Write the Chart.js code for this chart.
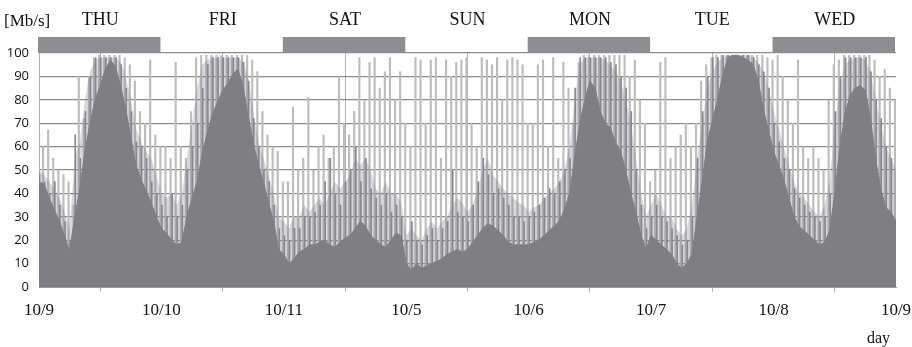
<!DOCTYPE html>
<html>
<head>
<meta charset="utf-8">
<script src="https://cdn.jsdelivr.net/npm/chart.js@4.4.1/dist/chart.umd.min.js"></script>
<style>
  html, body { margin: 0; padding: 0; background: #fff; }
  #wrap { width: 912px; height: 347px; }
</style>
</head>
<body>
<div id="wrap"><canvas id="traffic" width="912" height="347"></canvas></div>
<script>
// day names over the plot, and date tick labels at each day boundary
const dayNames = ['THU', 'FRI', 'SAT', 'SUN', 'MON', 'TUE', 'WED'];
const dateLabels = ['10/9', '10/10', '10/11', '10/5', '10/6', '10/7', '10/8', '10/9'];
const shadedDays = [true, false, true, false, true, false, true];
const yTicks = [0, 10, 20, 30, 40, 50, 60, 70, 80, 90, 100];

// hourly level of the dense (dark) traffic, Mb/s
const baseThu = [45, 44, 38, 33, 28, 22, 15, 30, 42, 58, 70, 80, 86, 93, 97, 94, 86, 76, 64, 52, 46, 41, 36, 30];
const baseFri = [25, 23, 20, 18, 19, 30, 38, 45, 57, 66, 74, 79, 84, 87, 91, 93, 86, 73, 62, 52, 45, 36, 28, 16];
const baseSat = [14, 10, 12, 15, 16, 18, 18, 19, 20, 18, 17, 19, 21, 22, 25, 28, 26, 22, 20, 18, 17, 20, 23, 22];
const baseSun = [10, 7, 10, 8, 9, 10, 11, 12, 14, 15, 16, 15, 16, 19, 22, 25, 27, 26, 24, 22, 19, 18, 18, 18];
const baseMon = [18, 19, 20, 22, 24, 26, 28, 33, 40, 55, 70, 80, 88, 85, 75, 70, 68, 62, 58, 50, 40, 32, 22, 16];
const baseTue = [22, 20, 18, 16, 14, 10, 8, 10, 14, 30, 45, 62, 71, 80, 90, 98, 99, 99, 98, 97, 95, 88, 76, 67];
const baseWed = [58, 52, 46, 38, 30, 26, 24, 22, 20, 18, 19, 24, 40, 60, 74, 82, 85, 86, 84, 72, 55, 42, 34, 32];
const baseEnd = 28;

// hourly top of the thick band of spikes, Mb/s
const bandThu = [50, 48, 45, 42, 38, 32, 25, 55, 62, 80, 92, 97, 98, 98, 98, 98, 96, 90, 80, 68, 62, 58, 55, 48];
const bandFri = [40, 38, 40, 35, 40, 55, 70, 85, 95, 97, 98, 98, 98, 98, 98, 98, 96, 90, 75, 62, 55, 48, 40, 30];
const bandSat = [28, 25, 30, 30, 35, 32, 35, 38, 35, 40, 45, 42, 45, 48, 55, 52, 55, 50, 42, 40, 45, 40, 40, 36];
const bandSun = [22, 25, 22, 20, 25, 28, 25, 28, 30, 35, 38, 36, 32, 35, 42, 50, 55, 48, 45, 42, 40, 38, 36, 35];
const bandMon = [32, 34, 35, 38, 40, 42, 45, 50, 60, 80, 95, 98, 98, 98, 98, 97, 95, 92, 88, 80, 70, 55, 40, 30];
const bandTue = [35, 40, 35, 30, 30, 25, 22, 25, 35, 55, 70, 85, 92, 96, 98, 99, 99, 99, 99, 99, 98, 96, 92, 85];
const bandWed = [75, 68, 60, 52, 45, 40, 38, 35, 32, 30, 35, 45, 70, 85, 95, 97, 98, 98, 97, 92, 80, 70, 60, 55];
const bandEnd = 50;

// hourly tallest dark spike, Mb/s
const darkThu = [48, 45, 40, 45, 35, 28, 20, 65, 55, 75, 90, 98, 98, 98, 98, 98, 95, 85, 75, 62, 60, 55, 45, 40];
const darkFri = [35, 30, 40, 30, 35, 50, 60, 70, 85, 95, 98, 98, 98, 98, 98, 98, 96, 88, 72, 60, 50, 45, 35, 25];
const darkSat = [22, 20, 25, 25, 30, 30, 32, 35, 45, 55, 40, 35, 45, 50, 60, 45, 55, 42, 38, 35, 40, 32, 35, 30];
const darkSun = [20, 28, 20, 18, 22, 25, 20, 25, 28, 50, 32, 30, 28, 35, 45, 55, 48, 40, 42, 38, 35, 30, 30, 28];
const darkMon = [30, 32, 35, 38, 42, 40, 45, 50, 55, 85, 98, 98, 98, 98, 98, 98, 96, 95, 90, 85, 75, 50, 35, 25];
const darkTue = [30, 35, 30, 28, 25, 22, 18, 20, 30, 55, 75, 90, 98, 98, 99, 99, 99, 99, 99, 99, 98, 95, 92, 85];
const darkWed = [70, 62, 55, 50, 42, 38, 35, 32, 30, 28, 30, 40, 75, 90, 98, 98, 98, 98, 98, 92, 80, 72, 60, 55];

// hourly highest (light) spike, Mb/s
const peakThu = [60, 67, 55, 50, 48, 45, 35, 90, 72, 90, 98, 99, 99, 99, 99, 99, 98, 95, 88, 75, 70, 97, 65, 60];
const peakFri = [60, 55, 96, 60, 55, 75, 98, 99, 99, 99, 99, 99, 99, 99, 99, 99, 99, 97, 92, 75, 65, 60, 58, 45];
const peakSat = [45, 77, 50, 55, 81, 50, 60, 65, 55, 60, 90, 70, 65, 75, 98, 80, 96, 98, 85, 92, 98, 80, 92, 70];
const peakSun = [60, 98, 97, 70, 97, 98, 55, 97, 90, 96, 97, 98, 70, 60, 98, 97, 95, 98, 80, 97, 98, 97, 95, 70];
const peakMon = [70, 95, 97, 60, 98, 55, 96, 85, 70, 96, 99, 99, 99, 99, 99, 99, 99, 99, 99, 90, 97, 80, 70, 45];
const peakTue = [50, 96, 98, 55, 60, 65, 70, 60, 70, 88, 95, 98, 99, 99, 99, 99, 99, 99, 99, 99, 99, 99, 98, 97];
const peakWed = [99, 90, 80, 70, 97, 60, 55, 60, 55, 50, 80, 95, 97, 99, 99, 99, 99, 99, 99, 97, 90, 93, 85, 80];

const baseHours = [].concat(baseThu, baseFri, baseSat, baseSun, baseMon, baseTue, baseWed, [baseEnd]);
const bandHours = [].concat(bandThu, bandFri, bandSat, bandSun, bandMon, bandTue, bandWed, [bandEnd]);
const darkHours = [].concat(darkThu, darkFri, darkSat, darkSun, darkMon, darkTue, darkWed);
const peakHours = [].concat(peakThu, peakFri, peakSat, peakSun, peakMon, peakTue, peakWed);

const basePoints = baseHours.map((v, i) => ({ x: i, y: v }));
const bandPoints = bandHours.map((v, i) => ({ x: i, y: v }));
const darkPoints = darkHours.map((v, i) => ({ x: i + 0.2, y: v }));
const peakPoints = peakHours.map((v, i) => ({ x: i + 0.65, y: v }));

const serif = '"Liberation Serif", "Times New Roman", serif';

// gray day band above the plot, day names, unit and axis titles
const dayBand = {
  id: 'dayBand',
  afterDraw(chart) {
    const { ctx, scales } = chart;
    const xs = scales.x, ys = scales.y;
    const top = ys.getPixelForValue(100);
    ctx.save();
    dayNames.forEach((name, d) => {
      const x0 = xs.getPixelForValue(d * 24);
      const x1 = xs.getPixelForValue((d + 1) * 24);
      if (shadedDays[d]) {
        ctx.fillStyle = '#8e8e92';
        ctx.fillRect(x0 - 1, top - 16, x1 - x0, 16);
      }
      ctx.fillStyle = '#111';
      ctx.font = '18px ' + serif;
      ctx.textAlign = 'center';
      ctx.textBaseline = 'middle';
      ctx.fillText(name, (x0 + x1) / 2, 20);
    });
    ctx.font = '17px ' + serif;
    ctx.textAlign = 'left';
    ctx.fillText('[Mb/s]', 4, 22);
    ctx.font = '16px ' + serif;
    ctx.fillText('day', 867, 339);
    ctx.restore();
  }
};

new Chart(document.getElementById('traffic'), {
  data: {
    datasets: [
      {
        type: 'line',
        label: 'dense traffic',
        data: basePoints,
        borderColor: '#7e7e83',
        backgroundColor: '#7e7e83',
        borderWidth: 1,
        pointRadius: 0,
        fill: 'origin',
        tension: 0,
        order: 1
      },
      {
        type: 'bar',
        label: 'dark spikes',
        data: darkPoints,
        backgroundColor: '#88888c',
        barThickness: 1,
        order: 2
      },
      {
        type: 'line',
        label: 'spike band',
        data: bandPoints,
        borderWidth: 0,
        backgroundColor: 'rgba(126,126,131,0.3)',
        pointRadius: 0,
        fill: 'origin',
        tension: 0,
        order: 3
      },
      {
        type: 'bar',
        label: 'spikes',
        data: peakPoints,
        backgroundColor: '#bdbdc0',
        barThickness: 1.5,
        order: 4
      }
    ]
  },
  options: {
    responsive: false,
    animation: false,
    layout: { padding: { top: 53, right: 0, left: 0, bottom: 0 } },
    plugins: { legend: { display: false }, tooltip: { enabled: false } },
    scales: {
      x: {
        type: 'linear',
        min: 0,
        max: 168,
        offset: false,
        afterFit(scale) {
          scale.height = 60;
          scale.paddingLeft = 0;
          scale.paddingRight = 16;
        },
        ticks: {
          stepSize: 24,
          autoSkip: false,
          maxRotation: 0,
          padding: 8,
          color: '#111',
          font: { family: serif, size: 17 },
          callback: v => dateLabels[v / 24]
        },
        grid: { color: '#b4b4b4', lineWidth: 1, tickLength: 5, drawTicks: true },
        border: { color: '#9a9a9a', width: 1 }
      },
      y: {
        min: 0,
        max: 100,
        afterFit(scale) { scale.width = 39; },
        afterBuildTicks(scale) { scale.ticks = yTicks.map(v => ({ value: v })); },
        ticks: {
          padding: 10,
          color: '#111',
          font: { family: '"Open Sans", sans-serif', size: 13 }
        },
        grid: { color: '#8c8c8c', lineWidth: 1.3, drawTicks: false },
        border: { color: '#b0b0b0', width: 1 }
      }
    }
  },
  plugins: [dayBand]
});
</script>
</body>
</html>
